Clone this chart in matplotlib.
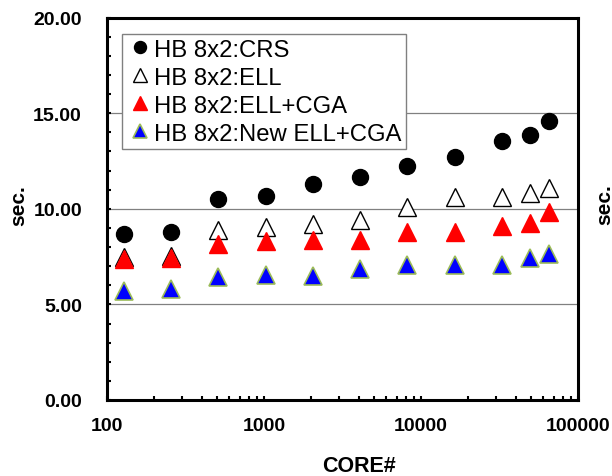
import numpy as np
import matplotlib
matplotlib.use('Agg')
import matplotlib.pyplot as plt
from matplotlib.ticker import FixedLocator, LogLocator, NullFormatter, MultipleLocator

plt.rcParams['font.family'] = ['Liberation Sans', 'DejaVu Sans']

# data
cores = [128, 256, 512, 1024, 2048, 4096, 8192, 16384, 32768, 49152, 65536]
crs = [8.66, 8.81, 10.50, 10.66, 11.32, 11.67, 12.24, 12.73, 13.53, 13.85, 14.58]
ell = [7.48, 7.52, 8.90, 9.05, 9.19, 9.39, 10.07, 10.59, 10.63, 10.81, 11.11]
ell_cga = [7.37, 7.44, 8.17, 8.31, 8.35, 8.39, 8.81, 8.81, 9.10, 9.26, 9.83]
new_ell_cga = [5.71, 5.82, 6.43, 6.52, 6.50, 6.85, 7.06, 7.06, 7.06, 7.40, 7.65]

labels = ['HB 8x2:CRS', 'HB 8x2:ELL', 'HB 8x2:ELL+CGA', 'HB 8x2:New ELL+CGA']
x_ticks = [100, 1000, 10000, 100000]
x_tick_labels = ['100', '1000', '10000', '100000']
y_ticks = [0, 5, 10, 15, 20]

fig = plt.figure(figsize=(6.12, 4.77), dpi=100)
ax = fig.add_axes([107/612, 1 - 401/477, 471/612, 382.5/477])

ax.plot(cores, crs, 'o', ms=11.5, color='black', label=labels[0], zorder=3)
ax.plot(cores, ell, '^', ms=13, mfc='white', mec='black', mew=1.0, label=labels[1], zorder=3)
ax.plot(cores, ell_cga, '^', ms=13, mfc='red', mec='red', mew=1.0, label=labels[2], zorder=3)
ax.plot(cores, new_ell_cga, '^', ms=13, mfc='blue', mec='#9BBB59', mew=1.2, label=labels[3], zorder=3)

ax.set_xscale('log')
ax.set_xlim(100, 100000)
ax.set_ylim(0, 20)
ax.xaxis.set_major_locator(FixedLocator(x_ticks))
ax.set_xticklabels(x_tick_labels)
ax.xaxis.set_minor_locator(LogLocator(base=10, subs=np.arange(2, 10)))
ax.xaxis.set_minor_formatter(NullFormatter())
ax.set_yticks(y_ticks)
ax.set_yticklabels(['%.2f' % v for v in y_ticks])
ax.yaxis.set_minor_locator(MultipleLocator(1))

ax.tick_params(which='both', direction='in', width=1.5, length=3, color='black')
ax.tick_params(axis='x', which='major', pad=12, labelsize=14)
ax.tick_params(axis='y', which='major', pad=18, labelsize=14)
for lab in ax.get_xticklabels() + ax.get_yticklabels():
    lab.set_fontweight('bold')

for s in ax.spines.values():
    s.set_linewidth(2.2)
    s.set_color('black')

ax.yaxis.grid(True, which='major', color='#808080', lw=0.9)
ax.set_axisbelow(True)

ax.set_xlabel('CORE#', fontsize=15.5, fontweight='bold', va='center')
ax.xaxis.set_label_coords(0.535, -0.172)
ax.set_ylabel('sec.', fontsize=15, fontweight='bold', va='center')
ax.yaxis.set_label_coords(-0.188, 0.512)

# label of the neighbouring chart, cut off at the right edge
fig.text(605/612, 1 - 205/477, 'sec.', rotation=90, fontsize=15, fontweight='bold',
         ha='center', va='center')

leg = ax.legend(loc='upper left', bbox_to_anchor=(0.032, 0.957), borderaxespad=0,
                fontsize=17.2, markerscale=0.75, handlelength=1.1, handletextpad=0.05,
                labelspacing=0.25, borderpad=0.2, fancybox=False, framealpha=1)
leg.get_frame().set_edgecolor('#808080')
leg.get_frame().set_linewidth(1.0)

fig.savefig('out.png', dpi=100)
